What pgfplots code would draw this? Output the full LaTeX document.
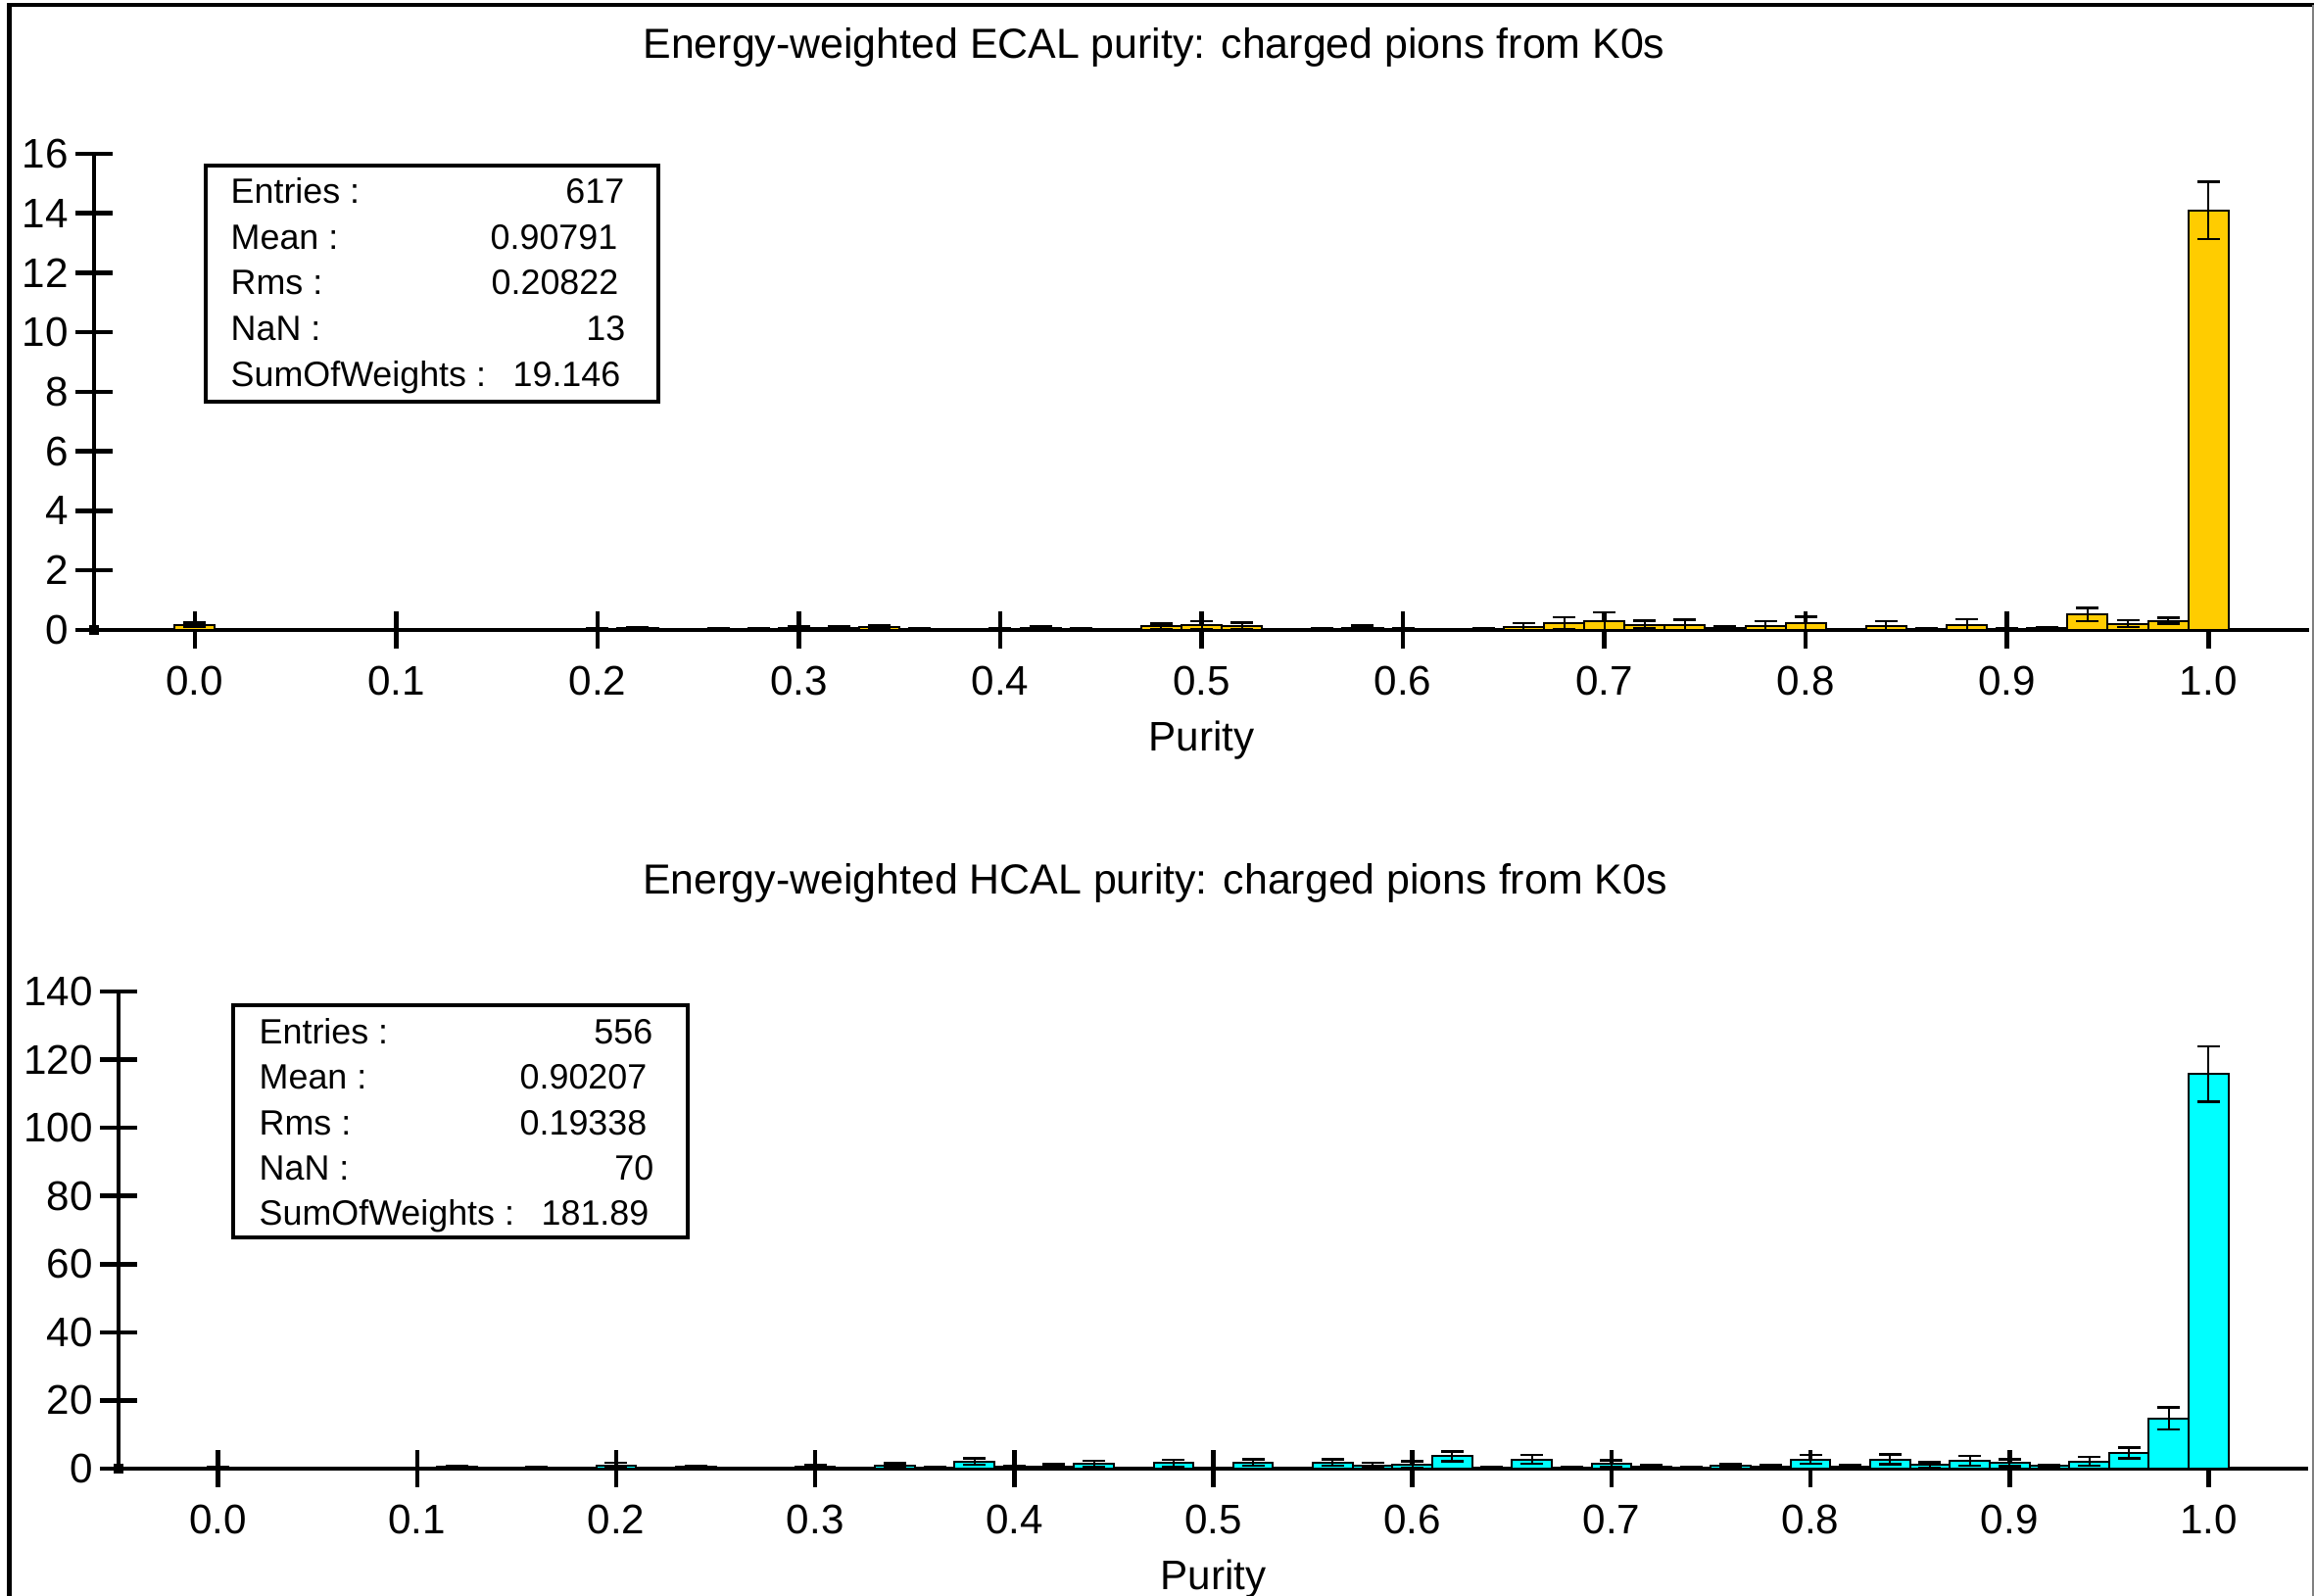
\documentclass[border=0pt]{standalone}
\usepackage{fontspec}
\setmainfont{Liberation Sans}
\usepackage{pgfplots}
\usepackage{pgfplotstable}
\pgfplotsset{compat=1.18}
\definecolor{ecal}{RGB}{255,204,0}
\definecolor{hcal}{RGB}{0,255,255}

\pgfplotstableread{
x y e
0.00 0.18 0.07
0.02 0.01 0.01
0.06 0.01 0.01
0.12 0.02 0.02
0.14 0.02 0.02
0.16 0.02 0.02
0.20 0.03 0.03
0.22 0.05 0.04
0.24 0.01 0.01
0.26 0.03 0.03
0.28 0.03 0.03
0.30 0.06 0.06
0.32 0.07 0.05
0.34 0.11 0.06
0.36 0.03 0.02
0.40 0.04 0.03
0.42 0.08 0.04
0.44 0.04 0.03
0.48 0.12 0.10
0.50 0.16 0.13
0.52 0.14 0.10
0.56 0.04 0.03
0.58 0.07 0.07
0.60 0.04 0.03
0.64 0.04 0.03
0.66 0.11 0.12
0.68 0.23 0.20
0.70 0.29 0.30
0.72 0.18 0.13
0.74 0.17 0.17
0.76 0.06 0.07
0.78 0.14 0.16
0.80 0.22 0.22
0.82 0.01 0.01
0.84 0.14 0.16
0.86 0.03 0.02
0.88 0.18 0.18
0.90 0.03 0.03
0.92 0.06 0.04
0.94 0.52 0.22
0.96 0.21 0.12
0.98 0.31 0.10
1.00 14.10 0.96
}\ecaltab

\pgfplotstableread{
x y e
0.00 0.2 0.2
0.12 0.5 0.4
0.16 0.3 0.3
0.20 1.0 0.7
0.24 0.5 0.4
0.30 0.7 0.5
0.34 1.0 0.6
0.36 0.2 0.2
0.38 2.1 0.9
0.40 0.5 0.4
0.42 0.7 0.6
0.44 1.4 0.9
0.48 1.6 1.0
0.52 1.8 1.0
0.56 1.8 1.0
0.58 1.0 0.7
0.60 1.2 1.0
0.62 3.6 1.4
0.64 0.2 0.2
0.66 2.7 1.3
0.68 0.2 0.2
0.70 1.5 0.9
0.72 0.7 0.5
0.74 0.3 0.3
0.76 0.9 0.6
0.78 0.7 0.5
0.80 2.7 1.3
0.82 0.7 0.5
0.84 2.7 1.4
0.86 1.1 0.8
0.88 2.3 1.4
0.90 1.7 1.0
0.92 0.8 0.3
0.94 2.1 1.3
0.96 4.6 1.6
0.98 14.7 3.2
1.00 115.8 8.1
}\hcaltab

\pgfplotsset{
  hist/.style={
    scale only axis,
    axis x line*=bottom, axis y line*=left,
    axis line style={-, line width=0.4mm, black},
    xmin=-0.05, xmax=1.05, ymin=0,
    xtick={0,0.1,0.2,0.3,0.4,0.5,0.6,0.7,0.8,0.9,1.0},
    tick align=center,
    major tick length=3.8mm,
    tick style={line width=0.45mm, black},
    /pgf/number format/assume math mode=true,
    ticklabel style={font=\fontsize{12}{14}\selectfont},
    xticklabel style={yshift=-0.6mm, /pgf/number format/fixed, /pgf/number format/fixed zerofill, /pgf/number format/precision=1},
    yticklabel style={xshift=0.5mm},
    xlabel={Purity},
    xlabel style={font=\fontsize{12}{14}\selectfont, at={(axis description cs:0.5,0)}, anchor=center, yshift=-11.3mm},
    clip=false,
  },
  histbar/.style={ybar, bar width=0.02, bar shift=0pt, fill=#1, draw=black, line width=0.2mm,
    error bars/.cd, y dir=both, y explicit,
    error bar style={line width=0.2mm, black},
    error mark options={rotate=90, line width=0.25mm, mark size=1.15mm, black}},
}

\begin{document}
\begin{tikzpicture}
\useasboundingbox (0,0) rectangle (236.2mm,162.9mm);
% outer frame
\draw[line width=0.45mm] (0.93mm,0) -- (0.93mm,162.4mm) -- (236.2mm,162.4mm);
\draw[line width=0.15mm, gray] (236.1mm,162.4mm) -- (236.1mm,0);

% ---------- ECAL ----------
\node[font=\fontsize{12.2}{14}\selectfont, inner sep=0] at (117.8mm,158.1mm)
  {Energy-weighted ECAL purity: charged pions from K0s};
\begin{axis}[hist, at={(9.6mm,98.6mm)}, anchor=south west,
  width=226.1mm, height=48.6mm, ymax=16, ytick={0,2,...,16}]
  \addplot[histbar=ecal] table[x=x, y=y, y error=e] {\ecaltab};
  \addplot[only marks, mark=square*, mark size=0.4mm, black] coordinates {(-0.05,0)};
\end{axis}
\draw[line width=0.35mm] (21.0mm,121.9mm) rectangle (67.2mm,146.0mm);
\begin{scope}[every node/.style={font=\fontsize{10.2}{12}\selectfont, inner sep=0}]
\node[anchor=base west] at (23.5mm,142.1mm) {Entries :};
\node[anchor=base west] at (23.5mm,137.4mm) {Mean :};
\node[anchor=base west] at (23.5mm,132.8mm) {Rms :};
\node[anchor=base west] at (23.5mm,128.1mm) {NaN :};
\node[anchor=base west] at (23.5mm,123.4mm) {SumOfWeights :};
\node[anchor=base east] at (63.8mm,142.1mm) {617};
\node[anchor=base east] at (63.1mm,137.4mm) {0.90791};
\node[anchor=base east] at (63.2mm,132.8mm) {0.20822};
\node[anchor=base east] at (63.9mm,128.1mm) {13};
\node[anchor=base east] at (63.4mm,123.4mm) {19.146};
\end{scope}

% ---------- HCAL ----------
\node[font=\fontsize{12.2}{14}\selectfont, inner sep=0] at (117.9mm,72.8mm)
  {Energy-weighted HCAL purity: charged pions from K0s};
\begin{axis}[hist, at={(12.1mm,13.0mm)}, anchor=south west,
  width=223.5mm, height=48.7mm, ymax=140, ytick={0,20,...,140}]
  \addplot[histbar=hcal] table[x=x, y=y, y error=e] {\hcaltab};
  \addplot[only marks, mark=square*, mark size=0.4mm, black] coordinates {(-0.05,0)};
\end{axis}
\draw[line width=0.35mm] (23.8mm,36.6mm) rectangle (70.2mm,60.3mm);
\begin{scope}[every node/.style={font=\fontsize{10.2}{12}\selectfont, inner sep=0}]
\node[anchor=base west] at (26.4mm,56.3mm) {Entries :};
\node[anchor=base west] at (26.4mm,51.7mm) {Mean :};
\node[anchor=base west] at (26.4mm,47.0mm) {Rms :};
\node[anchor=base west] at (26.4mm,42.4mm) {NaN :};
\node[anchor=base west] at (26.4mm,37.8mm) {SumOfWeights :};
\node[anchor=base east] at (66.7mm,56.3mm) {556};
\node[anchor=base east] at (66.1mm,51.7mm) {0.90207};
\node[anchor=base east] at (66.1mm,47.0mm) {0.19338};
\node[anchor=base east] at (66.8mm,42.4mm) {70};
\node[anchor=base east] at (66.3mm,37.8mm) {181.89};
\end{scope}
\end{tikzpicture}
\end{document}
